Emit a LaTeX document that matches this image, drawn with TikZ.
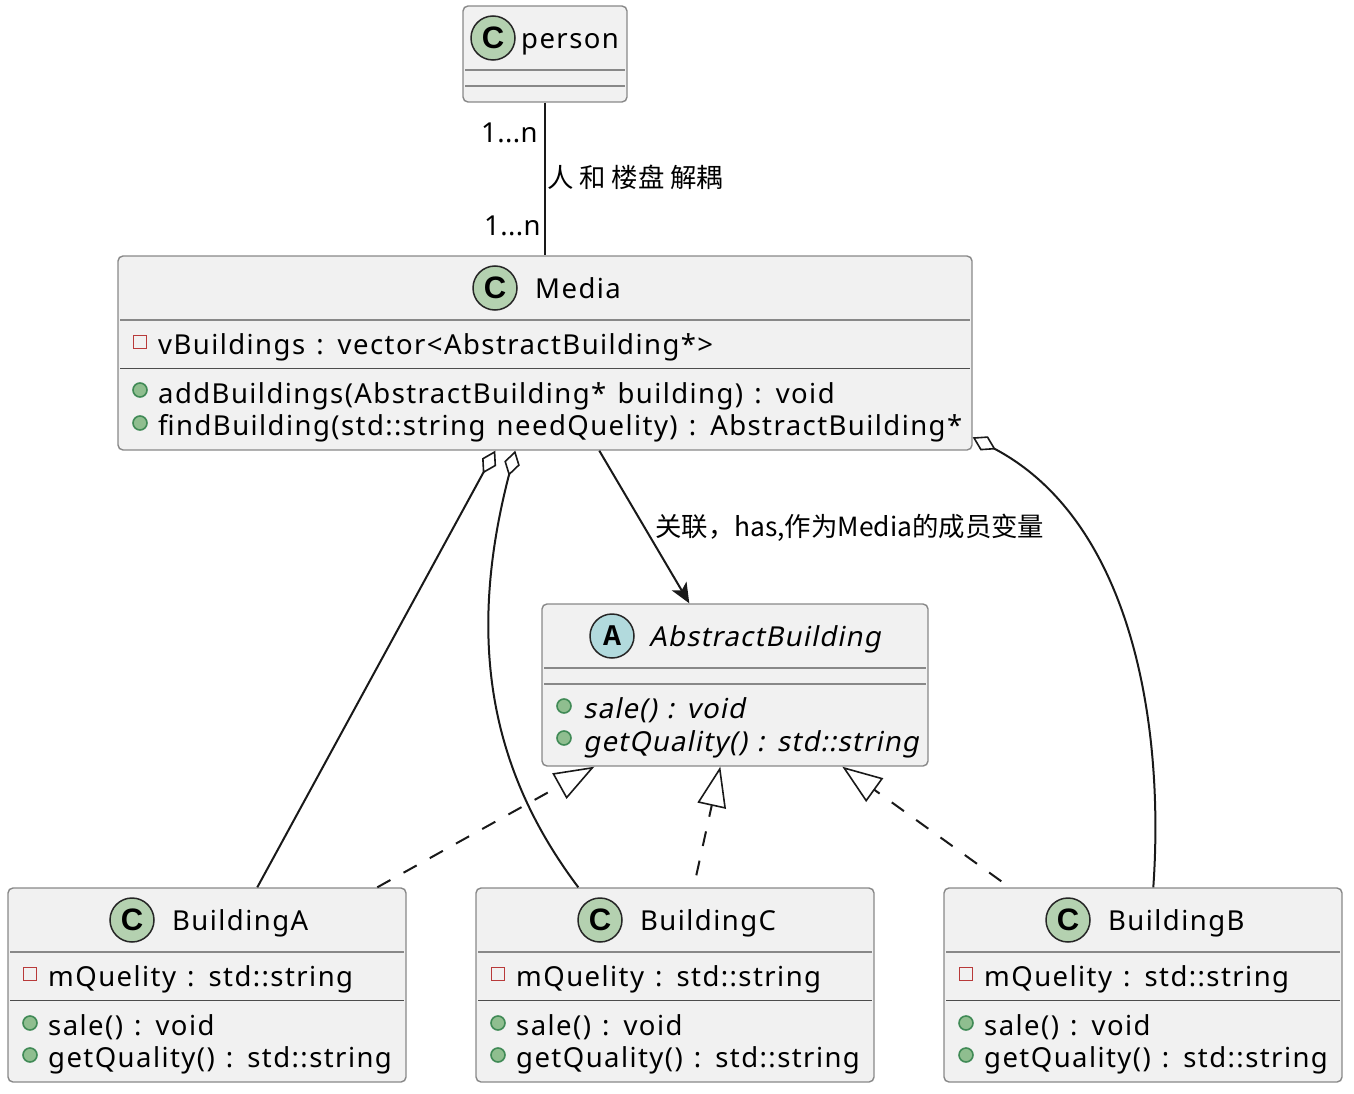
\documentclass[tikz,border=0pt]{standalone}
\usepackage{fontspec}
\setmainfont{Noto Sans}[LetterSpace=5.2, WordSpace=1.3]
\newfontfamily\slantfont{Noto Sans}[FakeSlant=0.2, LetterSpace=4.2, WordSpace=1.2]
\newfontfamily\cjk{Noto Sans CJK SC}
\newfontfamily\iconfont{Liberation Sans}[BoldFont={Liberation Sans Bold}]
\newfontfamily\iconmono{Liberation Mono}[BoldFont={Liberation Mono Bold}]
\usetikzlibrary{arrows.meta}
\usetikzlibrary{calc}
\definecolor{boxfill}{HTML}{F1F1F1}
\definecolor{boxline}{HTML}{888888}
\definecolor{spotc}{HTML}{B4D1B0}
\definecolor{spota}{HTML}{B2DADD}
\definecolor{privred}{HTML}{B83A3A}
\definecolor{pubfill}{HTML}{8FBE8F}
\definecolor{publine}{HTML}{408A56}
\tikzset{%
  classbox/.style={draw=boxline, fill=boxfill, line width=1.4pt, rounded corners=5pt, inner sep=0pt},
  sepline/.style={draw=boxline, line width=1.6pt},
  sepdark/.style={draw=black!70, line width=0.9pt},
  classicon/.style={circle, draw=black!85, line width=1.5pt, minimum size=44pt, inner sep=0pt, font=\iconfont\bfseries\fontsize{31}{31}\selectfont},
  cicon/.style={classicon, fill=spotc},
  aicon/.style={classicon, fill=spota, font=\iconmono\bfseries\fontsize{30}{30}\selectfont},
  title/.style={anchor=base west, inner sep=0pt, font=\fontsize{27.5}{32}\selectfont},
  member/.style={anchor=base west, inner sep=0pt, font=\fontsize{27.5}{32}\selectfont},
  multlabel/.style={member, font=\fontsize{27.5}{32}\selectfont\addfontfeature{LetterSpace=1.5}},
  edgelabel/.style={anchor=base west, inner sep=0pt, font=\cjk\fontsize{26.4}{30}\selectfont},
  privmark/.style={rectangle, draw=privred, line width=1.8pt, minimum size=13pt, inner sep=0pt},
  pubmark/.style={circle, draw=publine, fill=pubfill, line width=1.6pt, minimum size=14pt, inner sep=0pt},
  myedge/.style={line width=2pt, black!90},
  aggedge/.style={myedge, {Diamond[open, length=26pt, width=16pt, line width=1.6pt]}-},
  impledge/.style={myedge, dash pattern=on 15pt off 15pt, -{Triangle[open, length=40pt, width=29pt, line width=1.6pt]}},
  hasedge/.style={myedge, -{Stealth[length=20pt, width=17pt, inset=5pt]}}
}
\begin{document}
\begin{tikzpicture}[x=1pt, y=-1pt]
  \useasboundingbox (0,0) rectangle (1354,1094);

  % person
  \node[classbox, minimum width=164pt, minimum height=96pt] (person) at (545,54) {};
  \draw[sepline] (465,70) -- (625,70);
  \draw[sepline] (465,86) -- (625,86);
  \node[cicon] (personicon) at (493,38) {C};
  \node[title] (personname) at (521,49) {person};

  % Media
  \node[classbox, minimum width=854pt, minimum height=194pt] (media) at (545,353) {};
  \draw[sepline] (120,320) -- (970,320);
  \draw[sepdark] (120,368) -- (970,368);
  \node[cicon] (mediaicon) at (495,288) {C};
  \node[title] (medianame) at (535,298) {Media};
  \node[privmark] (mediap) at (140,342) {};
  \node[member] (mediaf) at (158,354) {vBuildings : vector<AbstractBuilding*>};
  \node[pubmark] (mediaa) at (140,390) {};
  \node[member] (mediam) at (158,403) {addBuildings(AbstractBuilding* building) : void};
  \node[pubmark] (mediab) at (140,423) {};
  \node[member] (median) at (158,435) {findBuilding(std::string needQuelity) : AbstractBuilding*};

  % AbstractBuilding
  \node[classbox, minimum width=386pt, minimum height=162pt] (abstract) at (735,685) {};
  \draw[sepline] (544,668) -- (926,668);
  \draw[sepline] (544,684) -- (926,684);
  \node[aicon] (abstracticon) at (612,636) {A};
  \node[title] (abstractname) at (649,646) {\slantfont AbstractBuilding};
  \node[pubmark] (abstracta) at (564,706) {};
  \node[member] (abstractm) at (583,718) {\slantfont sale() : void};
  \node[pubmark] (abstractb) at (564,738) {};
  \node[member] (abstractn) at (583,751) {\slantfont getQuality() : std::string};

  % BuildingA
  \node[classbox, minimum width=398pt, minimum height=194pt] (buildinga) at (207,985) {};
  \draw[sepline] (10,952) -- (404,952);
  \draw[sepdark] (10,1000) -- (404,1000);
  \node[cicon] (aicon) at (132,920) {C};
  \node[title] (aname) at (172,930) {BuildingA};
  \node[privmark] (ap) at (30,974) {};
  \node[member] (af) at (48,986) {mQuelity : std::string};
  \node[pubmark] (am) at (30,1023) {};
  \node[member] (as) at (48,1035) {sale() : void};
  \node[pubmark] (an) at (30,1055) {};
  \node[member] (ag) at (48,1067) {getQuality() : std::string};

  % BuildingC
  \node[classbox, minimum width=398pt, minimum height=194pt] (buildingc) at (675,985) {};
  \draw[sepline] (478,952) -- (872,952);
  \draw[sepdark] (478,1000) -- (872,1000);
  \node[cicon] (cicon) at (600,920) {C};
  \node[title] (cname) at (640,930) {BuildingC};
  \node[privmark] (cp) at (498,974) {};
  \node[member] (cf) at (516,986) {mQuelity : std::string};
  \node[pubmark] (cm) at (498,1023) {};
  \node[member] (cs) at (516,1035) {sale() : void};
  \node[pubmark] (cn) at (498,1055) {};
  \node[member] (cg) at (516,1067) {getQuality() : std::string};

  % BuildingB
  \node[classbox, minimum width=398pt, minimum height=194pt] (buildingb) at (1143,985) {};
  \draw[sepline] (946,952) -- (1340,952);
  \draw[sepdark] (946,1000) -- (1340,1000);
  \node[cicon] (bicon) at (1068,920) {C};
  \node[title] (bname) at (1108,930) {BuildingB};
  \node[privmark] (bp) at (966,974) {};
  \node[member] (bf) at (984,986) {mQuelity : std::string};
  \node[pubmark] (bm) at (966,1023) {};
  \node[member] (bs) at (984,1035) {sale() : void};
  \node[pubmark] (bn) at (966,1055) {};
  \node[member] (bg) at (984,1067) {getQuality() : std::string};

  \draw [myedge] (person.south) -- (media.north);
  \node[multlabel] (mult1) at (481,143) {1...n};
  \node[multlabel] (mult2) at (484,235) {1...n};
  \node[edgelabel] (decouple) at (547,188) {人 和 楼盘 解耦};

  \draw [hasedge] ($(media.south west)+(482,0)$) -- ($(abstract.north west)+(148,0)$);
  \node[edgelabel] (has) at (655,536) {关联，has,作为Media的成员变量};

  \draw [aggedge] ($(media.south west)+(378,0)$) -- ($(buildinga.north west)+(250,0)$);
  \draw [aggedge] ($(media.south west)+(398,0)$) .. controls (466,640) and (490,770) .. ($(buildingc.north west)+(103,0)$);
  \draw [aggedge] ($(media.north east)+(0,182)$) .. controls (1130,520) and (1165,720) .. ($(buildingb.north west)+(210,0)$);

  \draw [impledge] ($(buildinga.north west)+(370,0)$) -- ($(abstract.south west)+(53,0)$);
  \draw [impledge] ($(buildingc.north west)+(221,-12)$) -- ($(abstract.south west)+(179,0)$);
  \draw [impledge] ($(buildingb.north west)+(58,-6)$) -- ($(abstract.south west)+(301,0)$);
\end{tikzpicture}
\end{document}
